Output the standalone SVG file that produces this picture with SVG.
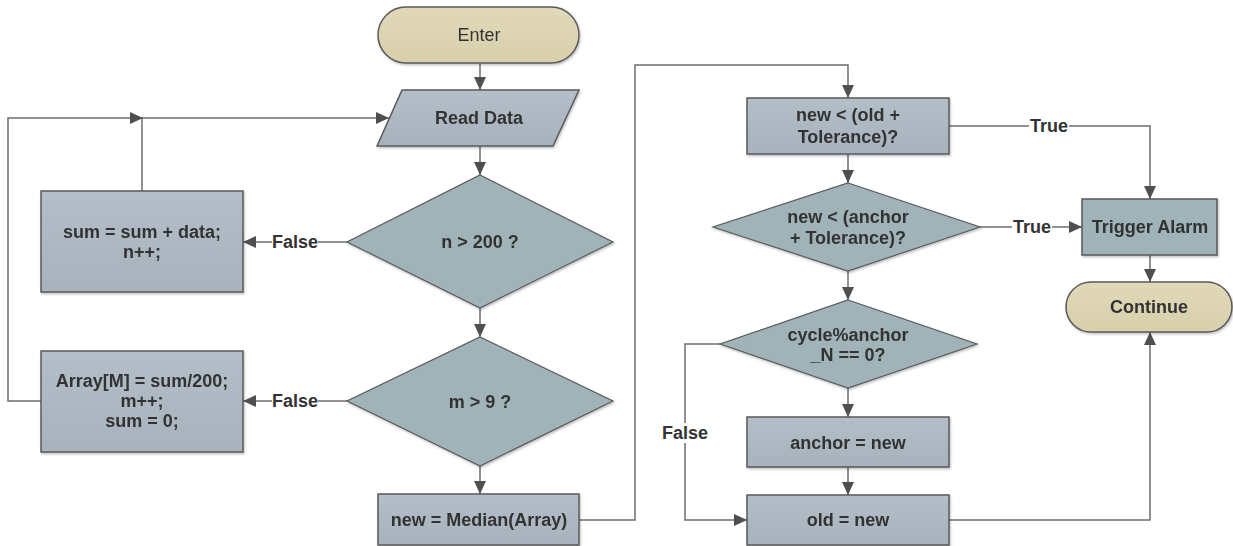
<svg xmlns="http://www.w3.org/2000/svg" width="1233" height="546" viewBox="0 0 1233 546">
<style>
text{font-family:"Liberation Sans",Arial,sans-serif;font-size:18px;fill:#333;text-anchor:middle;dominant-baseline:central;font-weight:bold}
.box{fill:url(#gbox);stroke:#5a5a5a;stroke-width:1.5}
.dia{fill:#a0b3b8;stroke:#5a5a5a;stroke-width:1.2}
.term{fill:url(#gterm);stroke:#5a5a5a;stroke-width:1.5}
.alarm{fill:#a0b3b8;stroke:#5a5a5a;stroke-width:1.5}
.c{fill:none;stroke:#6e6e6e;stroke-width:1.5}
.lbg{fill:#fff}
</style>
<defs>
<linearGradient id="gbox" x1="0" y1="0" x2="0" y2="1"><stop offset="0" stop-color="#b3bec8"/><stop offset="1" stop-color="#a7b2bd"/></linearGradient>
<linearGradient id="gterm" x1="0" y1="0" x2="0" y2="1"><stop offset="0" stop-color="#e0d8b8"/><stop offset="1" stop-color="#d8cfac"/></linearGradient>
<marker id="ah" markerUnits="userSpaceOnUse" markerWidth="13" markerHeight="12" refX="13" refY="6" orient="auto"><path d="M0,0 L13,6 L0,12 z" fill="#4f4f4f"/></marker>
<filter id="sh" x="-5%" y="-5%" width="110%" height="115%"><feDropShadow dx="1" dy="1.5" stdDeviation="1" flood-color="#000" flood-opacity="0.25"/></filter>
</defs>
<g id="connectors">
<path class="c" d="M480,63 V90" marker-end="url(#ah)"/>
<path class="c" d="M480,146 V175" marker-end="url(#ah)"/>
<path class="c" d="M480,308 V337" marker-end="url(#ah)"/>
<path class="c" d="M480,466 V494" marker-end="url(#ah)"/>
<path class="c" d="M347,242 H243" marker-end="url(#ah)"/>
<path class="c" d="M347,401 H243" marker-end="url(#ah)"/>
<path class="c" d="M142,191 V118 H389" marker-end="url(#ah)"/>
<path class="c" d="M41,401 H8 V118 H143" marker-end="url(#ah)"/>
<path class="c" d="M579,520 H635 V65 H848 V98" marker-end="url(#ah)"/>
<path class="c" d="M848,154 V183" marker-end="url(#ah)"/>
<path class="c" d="M949,126 H1150 V199" marker-end="url(#ah)"/>
<path class="c" d="M848,271 V300" marker-end="url(#ah)"/>
<path class="c" d="M980,227 H1082" marker-end="url(#ah)"/>
<path class="c" d="M848,388 V417" marker-end="url(#ah)"/>
<path class="c" d="M848,467 V495" marker-end="url(#ah)"/>
<path class="c" d="M720,344 H685 V520 H747" marker-end="url(#ah)"/>
<path class="c" d="M949,520 H1150 V332" marker-end="url(#ah)"/>
<path class="c" d="M1150,255 V282" marker-end="url(#ah)"/>
<rect class="lbg" x="272" y="232" width="46" height="20"/>
<text x="295" y="242">False</text>
<rect class="lbg" x="272" y="391" width="46" height="20"/>
<text x="295" y="401">False</text>
<rect class="lbg" x="662" y="423" width="46" height="20"/>
<text x="685" y="433">False</text>
<rect class="lbg" x="1029" y="116" width="40" height="20"/>
<text x="1049" y="126">True</text>
<rect class="lbg" x="1012" y="217" width="40" height="20"/>
<text x="1032" y="227">True</text>
</g>
<g id="enter" filter="url(#sh)"><rect class="term" x="378" y="7" width="201" height="56" rx="28"/><text x="479" y="35" font-weight="normal" style="font-weight:normal">Enter</text></g>
<g id="read" filter="url(#sh)"><path class="box" d="M402,90 H579 L553,146 H377 Z"/><text x="479" y="118">Read Data</text></g>
<g id="n200" filter="url(#sh)"><path class="dia" d="M480,175 L613,242 L480,308 L347,242 Z"/><text x="480" y="242">n &gt; 200 ?</text></g>
<g id="m9" filter="url(#sh)"><path class="dia" d="M480,337 L613,401 L480,466 L347,401 Z"/><text x="480" y="402">m &gt; 9 ?</text></g>
<g id="sum" filter="url(#sh)"><rect class="box" x="41" y="191" width="202" height="101"/><text x="142" y="232">sum = sum + data;</text><text x="142" y="252">n++;</text></g>
<g id="array" filter="url(#sh)"><rect class="box" x="41" y="351" width="202" height="101"/><text x="142" y="381">Array[M] = sum/200;</text><text x="142" y="401">m++;</text><text x="142" y="421">sum = 0;</text></g>
<g id="median" filter="url(#sh)"><rect class="box" x="378" y="494" width="201" height="51"/><text x="479" y="520">new = Median(Array)</text></g>
<g id="oldtol" filter="url(#sh)"><rect class="box" x="747" y="98" width="202" height="56"/><text x="848" y="115">new &lt; (old +</text><text x="848" y="137">Tolerance)?</text></g>
<g id="anchortol" filter="url(#sh)"><path class="dia" d="M848,183 L980,227 L848,271 L713,227 Z"/><text x="848" y="217">new &lt; (anchor</text><text x="848" y="238">+ Tolerance)?</text></g>
<g id="cycle" filter="url(#sh)"><path class="dia" d="M848,300 L977,344 L848,388 L720,344 Z"/><text x="848" y="335">cycle%anchor</text><text x="848" y="355">_N == 0?</text></g>
<g id="anchornew" filter="url(#sh)"><rect class="box" x="747" y="417" width="202" height="50"/><text x="848" y="443">anchor = new</text></g>
<g id="oldnew" filter="url(#sh)"><rect class="box" x="747" y="495" width="202" height="50"/><text x="848" y="520">old = new</text></g>
<g id="alarm" filter="url(#sh)"><rect class="alarm" x="1082" y="199" width="135" height="56"/><text x="1150" y="227">Trigger Alarm</text></g>
<g id="continue" filter="url(#sh)"><rect class="term" x="1066" y="282" width="166" height="50" rx="25"/><text x="1149" y="307">Continue</text></g>
</svg>
